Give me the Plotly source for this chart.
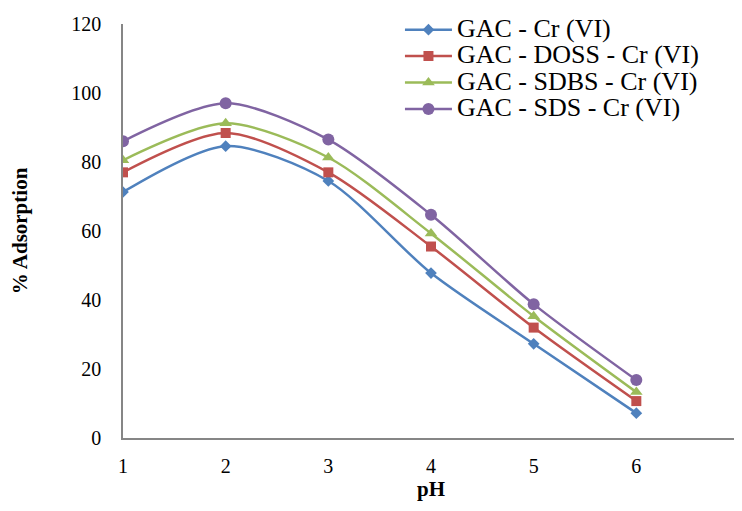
import plotly.graph_objects as go

ph = [1, 2, 3, 4, 5, 6]
gac_cr = [71.3, 84.6, 74.5, 47.8, 27.3, 7.2]
gac_doss = [77.0, 88.4, 77.0, 55.5, 32.0, 10.7]
gac_sdbs = [80.5, 91.2, 81.3, 59.3, 35.3, 13.3]
gac_sds = [86.0, 97.0, 86.5, 64.7, 38.8, 16.8]

names = ["GAC - Cr (VI)", "GAC - DOSS - Cr (VI)", "GAC - SDBS - Cr (VI)", "GAC - SDS - Cr (VI)"]
series = [gac_cr, gac_doss, gac_sdbs, gac_sds]
colors = ["#4F81BD", "#C0504D", "#9BBB59", "#8064A2"]
symbols = ["diamond", "square", "triangle-up", "circle"]
sizes = [9, 10, 11, 12]

FF = "Liberation Serif"
LF = "serif"

fig = go.Figure()
for n, s, c, sym, sz in zip(names, series, colors, symbols, sizes):
    fig.add_trace(go.Scatter(
        x=ph, y=s,
        name='<span style="font-size:26px">' + n + '</span>',
        mode="lines+markers",
        line=dict(color=c, width=2.5, shape="spline", smoothing=0.8),
        marker=dict(symbol=sym, size=sz, color=c),
    ))

fig.update_layout(
    width=734, height=503,
    margin=dict(l=115, r=3, t=16, b=73, autoexpand=False),
    paper_bgcolor="white", plot_bgcolor="white",
    font=dict(family=FF, color="black"),
    legend=dict(xref="container", yref="container",
                x=0.534, y=0.993, xanchor="left", yanchor="top",
                font=dict(size=18, family=LF, color="black"),
                bgcolor="rgba(0,0,0,0)", itemwidth=47, tracegroupgap=0),
    xaxis=dict(range=[1, 7], dtick=1, tick0=1, showgrid=False, zeroline=False,
               showline=True, linecolor="#868686", linewidth=1.5,
               ticks="", ticklabelstandoff=9, automargin=False,
               tickfont=dict(size=20, family=FF),
               title=dict(text="<b>pH</b>", font=dict(size=21, family=FF), standoff=6)),
    yaxis=dict(range=[0, 120], dtick=20, showgrid=False, zeroline=False,
               showline=True, linecolor="#868686", linewidth=1.5,
               ticks="", ticklabelstandoff=16, automargin=False,
               tickfont=dict(size=20, family=FF),
               title=dict(text="<b>% Adsorption</b>", font=dict(size=21, family=FF), standoff=42)),
)
fig.write_html("out.html")
